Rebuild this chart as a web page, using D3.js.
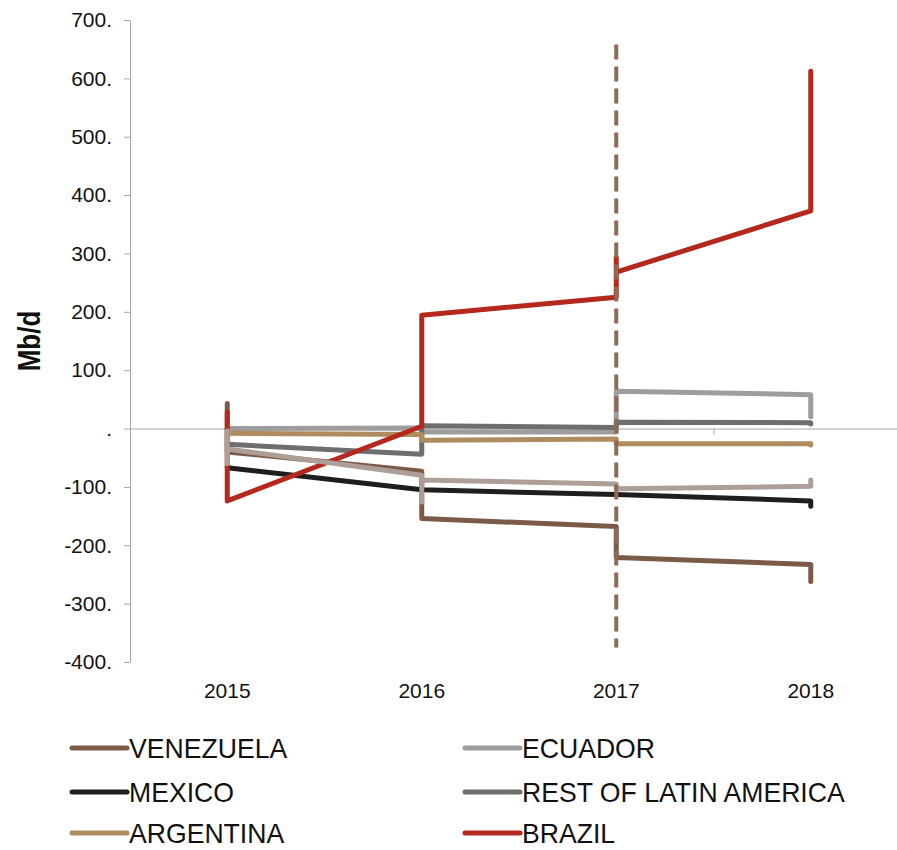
<!DOCTYPE html>
<html>
<head>
<meta charset="utf-8">
<script src="https://cdn.jsdelivr.net/npm/d3@7"></script>
<style>
  html, body { margin: 0; padding: 0; background: #fff; }
  svg { display: block; font-family: "Liberation Sans", Arial, sans-serif; }
</style>
</head>
<body>
<svg id="chart" width="897" height="850"></svg>
<script>
// ---- data ----
const years = ["2015", "2016", "2017", "2018"];
const yTicks = [-400, -300, -200, -100, 0, 100, 200, 300, 400, 500, 600, 700];

// each series: points as [year, value]; repeated years draw the vertical jumps
const venezuela = [["2015", 43], ["2015", -40], ["2016", -73], ["2016", -154], ["2017", -168], ["2017", -221], ["2018", -233], ["2018", -262]];
const ecuador   = [["2015", 0], ["2016", 1], ["2016", -6], ["2017", -6], ["2017", 64], ["2018", 58], ["2018", 20]];
const mexico    = [["2015", -67], ["2016", -105], ["2017", -113], ["2018", -124], ["2018", -133]];
const restLatAm = [["2015", -27], ["2016", -44], ["2016", 5], ["2017", 2], ["2017", 11], ["2018", 10], ["2018", 8]];
const argentina = [["2015", -8], ["2016", -10], ["2016", -20], ["2017", -18], ["2017", -26], ["2018", -26], ["2018", -28]];
const brazil    = [["2015", 28], ["2015", -124], ["2016", 4], ["2016", 194], ["2017", 225], ["2017", 293], ["2017", 268], ["2018", 373], ["2018", 612]];
const unlabelled = [["2015", -4], ["2015", -60], ["2015", -35], ["2016", -80], ["2016", -126], ["2016", -88], ["2017", -95], ["2017", -103], ["2018", -99], ["2018", -88]];

const seriesNames  = ["VENEZUELA", "ECUADOR", "MEXICO", "REST OF LATIN AMERICA", "ARGENTINA", "BRAZIL", ""];
const seriesData   = [venezuela, ecuador, mexico, restLatAm, argentina, brazil, unlabelled];
const seriesColors = ["#7B5B48", "#9E9C9C", "#1E1E1E", "#6E6E6E", "#AE8C5F", "#B4281E", "#AD9E97"];

const markerYear = "2017";
const markerRange = [-375, 658];
const yTitle = "Mb/d";

// ---- layout ----
const svg = d3.select("#chart");
const plotL = 130, plotR = 908, plotT = 20, plotB = 662;
const regular = "'Liberation Sans', Arial, sans-serif";

const xBand = d3.scaleBand().domain(years).range([plotL, plotR]).paddingInner(0).paddingOuter(0);
const xc = yr => xBand(yr) + xBand.bandwidth() / 2;
const xIdx = d3.scaleLinear().domain([-0.5, years.length - 0.5]).range([plotL, plotR]);
const y = d3.scaleLinear().domain([-400, 700]).range([plotB, plotT]);

const axisColor = "#A6A6A6";

// y axis
const yAxis = svg.append("g")
  .attr("transform", `translate(${plotL},0)`)
  .call(d3.axisLeft(y).tickValues(yTicks)
    .tickFormat(d => d === 0 ? "." : d + ".")
    .tickSize(6).tickSizeOuter(0).tickPadding(12));
yAxis.select(".domain").attr("stroke", axisColor);
yAxis.selectAll(".tick line").attr("stroke", axisColor);
yAxis.selectAll(".tick text").attr("font-size", 21).attr("fill", "#111")
  .attr("font-family", regular);

// x axis line at zero with ticks at category boundaries
const xAxis = svg.append("g")
  .attr("transform", `translate(0,${y(0)})`)
  .call(d3.axisBottom(xIdx).tickValues(d3.range(-0.5, years.length, 1))
    .tickFormat("").tickSize(6).tickSizeOuter(0));
xAxis.select(".domain").attr("stroke", axisColor);
xAxis.selectAll(".tick line").attr("stroke", axisColor);

// category labels at bottom
const xLab = svg.append("g")
  .attr("transform", `translate(0,${plotB + 13})`)
  .call(d3.axisBottom(xBand).tickSize(0).tickPadding(8));
xLab.select(".domain").remove();
xLab.selectAll(".tick text").attr("font-size", 21).attr("fill", "#111")
  .attr("font-family", regular);

// series lines
const line = d3.line().x(d => xc(d[0])).y(d => y(d[1]));
svg.append("g").selectAll("path")
  .data(seriesData)
  .join("path")
  .attr("d", line)
  .attr("fill", "none")
  .attr("stroke", (d, i) => seriesColors[i])
  .attr("stroke-width", 5)
  .attr("stroke-linejoin", "round")
  .attr("stroke-linecap", "round");

// dashed marker
svg.append("line")
  .attr("x1", xc(markerYear)).attr("x2", xc(markerYear))
  .attr("y1", y(markerRange[1])).attr("y2", y(markerRange[0]))
  .attr("stroke", "#8C6B57").attr("stroke-width", 4)
  .attr("stroke-dasharray", "15,7");

// condensed-text helper (squeezes glyphs horizontally)
function condense(sel, ratio) {
  sel.each(function () {
    const w = this.getComputedTextLength();
    d3.select(this).attr("textLength", w * ratio).attr("lengthAdjust", "spacingAndGlyphs");
  });
}

// y title
const yt = svg.append("text")
  .attr("transform", `translate(40,${(y(100) + y(200)) / 2}) rotate(-90)`)
  .attr("text-anchor", "middle")
  .attr("font-family", regular)
  .attr("font-size", 31).attr("font-weight", "bold").attr("fill", "#111")
  .text(yTitle);
condense(yt, 0.84);

// legend
const legendItems = seriesNames.map((n, i) => ({ name: n, color: seriesColors[i] })).filter(d => d.name);
const colX = [72, 465];
const rowY = [748, 792, 833];
const lg = svg.append("g").selectAll("g")
  .data(legendItems)
  .join("g")
  .attr("transform", (d, i) => `translate(${colX[i % 2]},${rowY[Math.floor(i / 2)]})`);
lg.append("line").attr("x1", 0).attr("x2", 55).attr("y1", 0).attr("y2", 0)
  .attr("stroke", d => d.color).attr("stroke-width", 5).attr("stroke-linecap", "round");
const lt = lg.append("text").attr("x", 57).attr("y", 0).attr("dy", "0.36em")
  .attr("font-family", regular)
  .attr("font-size", 28).attr("fill", "#111").text(d => d.name);
condense(lt, 0.95);
</script>
</body>
</html>
